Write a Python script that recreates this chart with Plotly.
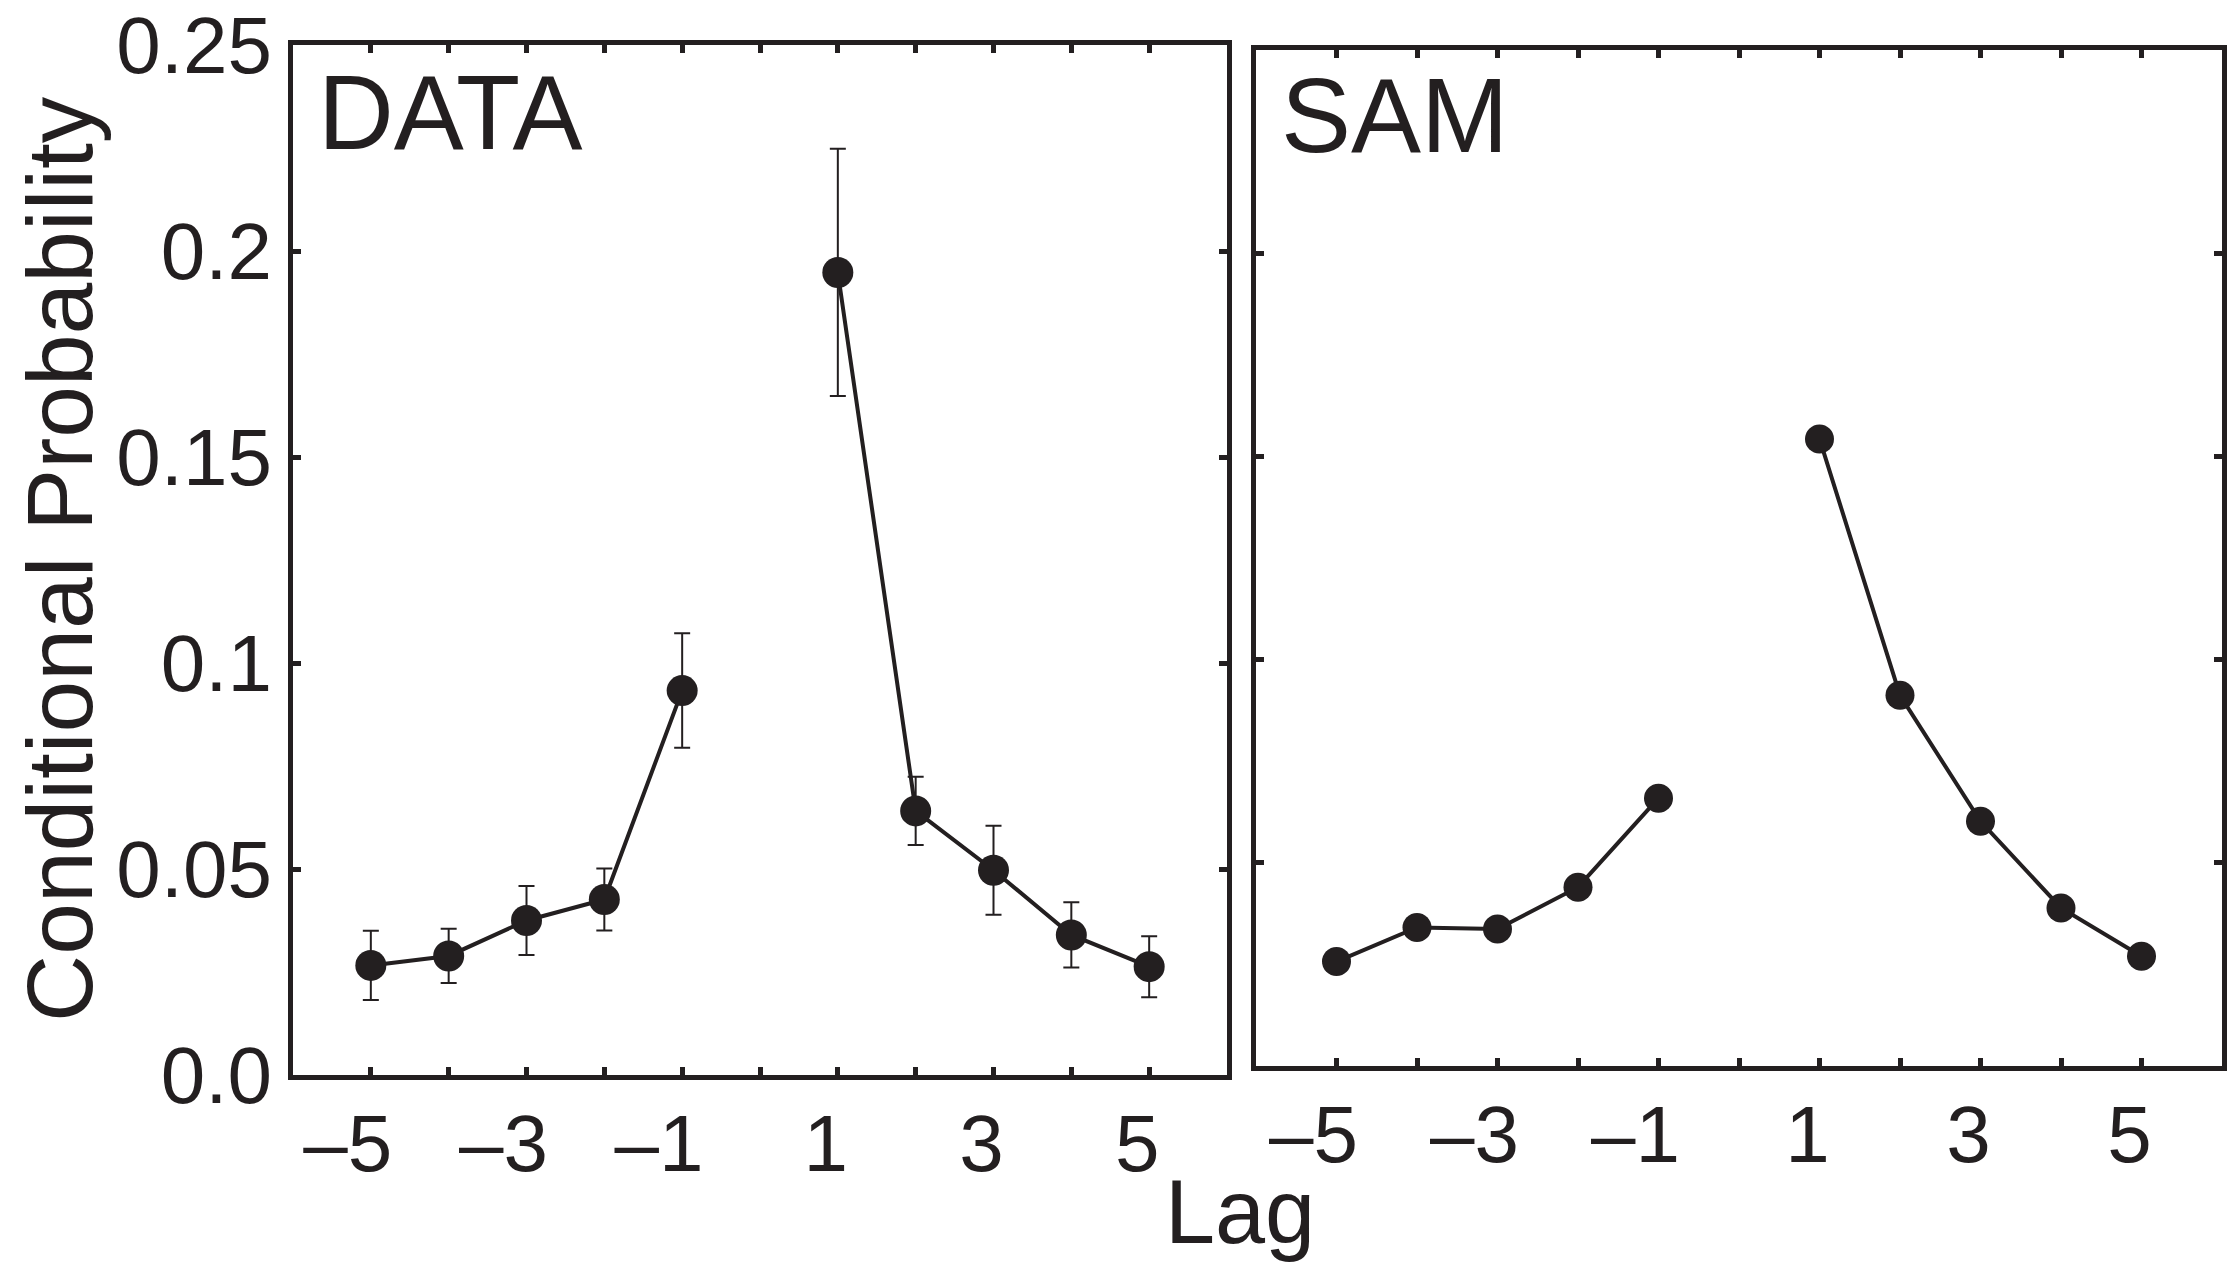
import plotly.graph_objects as go

# ---- data ----
lags_neg = [-5, -4, -3, -2, -1]
lags_pos = [1, 2, 3, 4, 5]
data_neg = [0.0266, 0.0289, 0.0375, 0.0426, 0.0933]
data_pos = [0.1948, 0.0641, 0.0497, 0.0340, 0.0263]
err_neg = [0.0084, 0.0066, 0.0084, 0.0075, 0.0139]
err_pos = [0.0300, 0.0083, 0.0108, 0.0079, 0.0074]
sam_neg = [0.0257, 0.0341, 0.0337, 0.0440, 0.0659]
sam_pos = [0.1543, 0.0912, 0.0602, 0.0389, 0.0270]

x_tickvals = [-5, -4, -3, -2, -1, 0, 1, 2, 3, 4, 5]
x_ticktext = ["\u20135\u00a0", "", "\u20133\u00a0", "", "\u20131\u00a0", "", "1", "", "3", "", "5"]
y_tickvals = [0.0, 0.05, 0.1, 0.15, 0.2, 0.25]
y_ticktext = ["0.0", "0.05", "0.1", "0.15", "0.2", "0.25"]

INK = "#231f20"
FONT = "Liberation Sans, Arial, Helvetica, sans-serif"
W, H = 2236, 1264

fig = go.Figure()

for xs, ys, es in [(lags_neg, data_neg, err_neg), (lags_pos, data_pos, err_pos)]:
    fig.add_trace(go.Scatter(
        x=xs, y=ys, mode="lines+markers",
        line=dict(color=INK, width=4),
        marker=dict(color=INK, size=31),
        error_y=dict(type="data", array=es, visible=True,
                     color=INK, thickness=2, width=8),
        xaxis="x", yaxis="y", showlegend=False, hoverinfo="skip"))

for xs, ys in [(lags_neg, sam_neg), (lags_pos, sam_pos)]:
    fig.add_trace(go.Scatter(
        x=xs, y=ys, mode="lines+markers",
        line=dict(color=INK, width=4),
        marker=dict(color=INK, size=29),
        xaxis="x2", yaxis="y2", showlegend=False, hoverinfo="skip"))


def px_x(a, b):
    return [a / W, b / W]


def px_y(top, bottom):
    return [1 - bottom / H, 1 - top / H]


common_x = dict(range=[-6, 6], tickmode="array", tickvals=x_tickvals, ticktext=x_ticktext,
                ticks="inside", ticklen=8, tickwidth=5, tickcolor=INK,
                showline=True, linewidth=5, linecolor=INK, mirror="allticks",
                showgrid=False, zeroline=False, automargin=False,
                tickfont=dict(family=FONT, size=80, color=INK),
                ticklabelstandoff=-5, ticklabelshift=-12, fixedrange=True)
common_y = dict(range=[0, 0.25], tickmode="array", tickvals=y_tickvals, ticktext=y_ticktext,
                ticks="inside", ticklen=8, tickwidth=5, tickcolor=INK,
                showline=True, linewidth=5, linecolor=INK, mirror="allticks",
                showgrid=False, zeroline=False, automargin=False,
                tickfont=dict(family=FONT, size=80, color=INK),
                ticklabelstandoff=0, fixedrange=True)

fig.update_layout(
    width=W, height=H,
    margin=dict(l=0, r=0, t=0, b=0, autoexpand=False),
    paper_bgcolor="white", plot_bgcolor="white",
    xaxis=dict(common_x, domain=px_x(293, 1227), anchor="y"),
    yaxis=dict(common_y, domain=px_y(45, 1075), anchor="x"),
    xaxis2=dict(common_x, domain=px_x(1256, 2222), anchor="y2"),
    yaxis2=dict(common_y, domain=px_y(50, 1066), anchor="x2", showticklabels=False),
    annotations=[
        dict(text="DATA", x=316 / W, y=1 - 150 / H, xref="paper", yref="paper",
             xanchor="left", yanchor="bottom", showarrow=False,
             font=dict(family=FONT, size=105, color=INK), yshift=-23),
        dict(text="SAM", x=1279 / W, y=1 - 153 / H, xref="paper", yref="paper",
             xanchor="left", yanchor="bottom", showarrow=False,
             font=dict(family=FONT, size=105, color=INK), yshift=-23),
        dict(text="Lag", x=1240 / W, y=1 - 1264 / H, xref="paper", yref="paper",
             xanchor="center", yanchor="bottom", showarrow=False,
             font=dict(family=FONT, size=90, color=INK)),
        dict(text="Conditional Probability", x=60 / W, y=1 - 559 / H, xref="paper", yref="paper",
             xanchor="center", yanchor="middle", showarrow=False, textangle=-90,
             font=dict(family=FONT, size=93, color=INK)),
    ],
)

fig.write_html("out.html", config={"displayModeBar": False},
               post_script="document.body.style.margin='0';document.body.style.overflow='hidden';")
